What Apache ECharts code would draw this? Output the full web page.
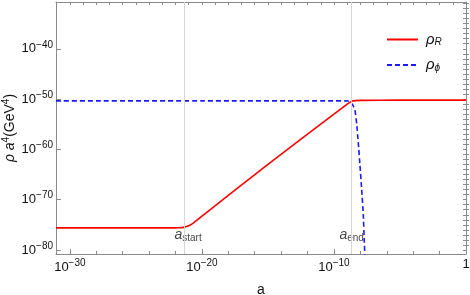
<!DOCTYPE html>
<html><head><meta charset="utf-8">
<script src="https://cdn.jsdelivr.net/npm/echarts@6/dist/echarts.min.js"></script>
<style>html,body{margin:0;padding:0;background:#fff}#c{width:470px;height:295px}</style>
</head><body><div id="c"></div>
<script>
// exponents (log10) of a and of rho*a^4
const xTickExps = [-30, -20, -10, 0];
const yTickExps = [-80, -70, -60, -50, -40];
const rhoR_logA   = [-31.05, -24, -22, -21.8, -21.4, -21.0, -20.6, -20.2, -19.8, -15, -10, -9.2, -9.0, -8.8, -8.6, -8.4, -8.0, -5, 0];
const rhoR_logRho = [-75.6, -75.6, -75.6, -75.58, -75.5, -75.2, -74.55, -73.7, -72.85, -62.98, -52.98, -51.4, -51.0, -50.65, -50.4, -50.3, -50.25, -50.2, -50.2];
const rhoPhi_logA   = [-31.05, -20, -10, -9.2, -8.94, -8.73, -8.55, -8.41, -8.28, -8.16, -8.03, -7.90, -7.78, -7.70, -7.64];
const rhoPhi_logRho = [-50.35, -50.35, -50.35, -50.35, -50.4, -50.7, -51.3, -52.2, -54.9, -58.6, -63.2, -68.0, -72.9, -78.5, -82];
const markerNames = ['start', 'end'];
const markerLogA = [-21.35, -8.66];

const X_MIN = -31.05, X_MAX = 0, Y_MIN = -80.8, Y_MAX = -30.7;
const xMinor = []; for (let v = -30; v <= 0; v += 2) if (v % 10 !== 0) xMinor.push(v);
const xTop = []; for (let v = -31; v <= 0; v += 1) xTop.push(v);
const yMinor = []; for (let v = -80; v <= -31; v += 1) if (v % 10 !== 0) yMinor.push(v);

const FRAME = '#8a8a8a';
const FONT = 'Liberation Sans';
const TXT = '#111';
const supRich = {
  b: {fontSize: 13, fontFamily: FONT, color: TXT},
  sup: {fontSize: 10, fontFamily: FONT, color: TXT, padding: [0, 0, 8, 0]}
};
function expLabel(v) {
  if (v === 0) return '{b|1}';
  return '{b|10}{sup|' + String(v).replace('-', '\u2212') + '}';
}

const chart = echarts.init(document.getElementById('c'), null, {renderer: 'canvas'});
const rData = rhoR_logA.map((x, i) => [x, rhoR_logRho[i]]);
const pData = rhoPhi_logA.map((x, i) => [x, rhoPhi_logRho[i]]);
const mData = markerLogA.map((x, i) => ({value: [x, -77.0], name: markerNames[i]}));

const baseX = {type: 'value', min: X_MIN, max: X_MAX, splitLine: {show: false}};
const baseY = {type: 'value', min: Y_MIN, max: Y_MAX, splitLine: {show: false}};

chart.setOption({
  animation: false,
  backgroundColor: '#fff',
  grid: {left: 56, right: 4, top: 2, bottom: 41, containLabel: false, outerBoundsMode: 'none'},
  legend: {
    orient: 'vertical', left: 381, top: 27, itemWidth: 31, itemHeight: 14, itemGap: 10,
    itemStyle: {opacity: 0, borderWidth: 0},
    data: ['rhoR', 'rhoPhi'],
    formatter: n => n === 'rhoR' ? '{i|ρ}{s|R}' : '{i|ρ}{s|ϕ}',
    textStyle: {padding: [0, 0, 0, 3], rich: {
      i: {fontSize: 15, fontStyle: 'italic', fontFamily: FONT, color: TXT},
      s: {fontSize: 10, fontStyle: 'italic', fontFamily: FONT, color: TXT, padding: [6, 0, 0, 0]}
    }}
  },
  xAxis: [
    Object.assign({}, baseX, {
      position: 'bottom', name: 'a', nameLocation: 'middle', nameGap: 29, nameMoveOverlap: false,
      nameTextStyle: {fontSize: 14, fontFamily: FONT, color: TXT},
      axisLine: {show: true, onZero: false, lineStyle: {color: FRAME, width: 1}},
      axisTick: {show: true, inside: true, length: 5, customValues: xTickExps, lineStyle: {color: FRAME}},
      axisLabel: {show: true, customValues: xTickExps, margin: 4, formatter: expLabel, rich: supRich}
    }),
    Object.assign({}, baseX, {
      position: 'bottom',
      axisLine: {show: false}, axisLabel: {show: false},
      axisTick: {show: true, inside: true, length: 3, customValues: xMinor, lineStyle: {color: FRAME}}
    }),
    Object.assign({}, baseX, {
      position: 'top',
      axisLine: {show: true, onZero: false, lineStyle: {color: FRAME, width: 1}}, axisLabel: {show: false},
      axisTick: {show: true, inside: true, length: 3, customValues: xTop, lineStyle: {color: FRAME}}
    })
  ],
  yAxis: [
    Object.assign({}, baseY, {
      position: 'left', name: '{i|ρ} {i|a}{sup|4}(GeV{sup|4})', nameLocation: 'middle', nameGap: 37,
      nameMoveOverlap: false,
      nameTextStyle: {rich: {
        i: {fontSize: 14, fontStyle: 'italic', fontFamily: FONT, color: TXT},
        sup: {fontSize: 10, fontFamily: FONT, color: TXT, padding: [0, 0, 8, 0]}
      }, fontSize: 14, fontFamily: FONT, color: TXT},
      axisLine: {show: true, onZero: false, lineStyle: {color: FRAME, width: 1}},
      axisTick: {show: true, inside: true, length: 5, customValues: yTickExps, lineStyle: {color: FRAME}},
      axisLabel: {show: true, customValues: yTickExps, margin: 3, formatter: expLabel, rich: supRich}
    }),
    Object.assign({}, baseY, {
      position: 'left',
      axisLine: {show: false}, axisLabel: {show: false},
      axisTick: {show: true, inside: true, length: 3, customValues: yMinor, lineStyle: {color: FRAME}}
    }),
    Object.assign({}, baseY, {
      position: 'right',
      axisLine: {show: true, onZero: false, lineStyle: {color: FRAME, width: 1}}, axisLabel: {show: false},
      axisTick: {show: true, inside: true, length: 3, customValues: yMinor.concat(yTickExps), lineStyle: {color: FRAME}}
    })
  ],
  series: [
    {
      name: 'rhoR', type: 'line', data: rData, xAxisIndex: 0, yAxisIndex: 0,
      symbol: 'none', showSymbol: false, smooth: 0.15,
      lineStyle: {color: '#ff0000', width: 1.6}, itemStyle: {color: '#ff0000'}, z: 3,
      markLine: {
        silent: true, symbol: 'none', label: {show: false},
        lineStyle: {color: '#d6d6d6', width: 1, type: 'solid'},
        data: markerLogA.map(v => ({xAxis: v}))
      }
    },
    {
      name: 'rhoPhi', type: 'line', data: pData, xAxisIndex: 0, yAxisIndex: 0,
      symbol: 'none', showSymbol: false, smooth: 0.15,
      lineStyle: {color: '#1a1aff', width: 1.6, type: [5, 3]}, itemStyle: {color: '#1a1aff'}, z: 4
    },
    {
      name: 'markers', type: 'scatter', data: mData, xAxisIndex: 0, yAxisIndex: 0,
      symbolSize: 0, silent: true,
      label: {
        show: true, position: 'inside',
        formatter: p => '{a|a}{s|' + p.name + '}',
        rich: {
          a: {fontSize: 14, fontStyle: 'italic', fontFamily: FONT, color: TXT},
          s: {fontSize: 10, fontFamily: FONT, color: TXT, padding: [6, 0, 0, 0]}
        }
      },
      labelLayout: p => p.dataIndex === 0 ? {dx: 4} : {}
    }
  ]
});
</script></body></html>
